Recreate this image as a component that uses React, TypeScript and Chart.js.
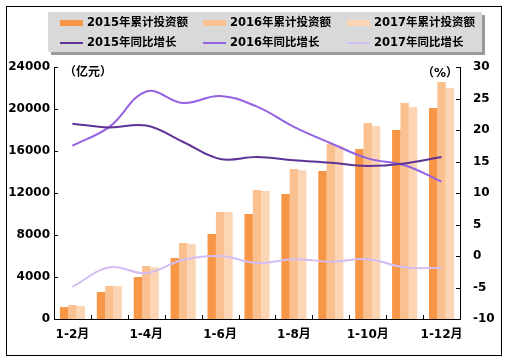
import React, { useEffect, useRef } from "react";
import { Chart, registerables } from "chart.js";

Chart.register(...registerables);

const categories = ["1-2月", "1-3月", "1-4月", "1-5月", "1-6月", "1-7月", "1-8月", "1-9月", "1-10月", "1-11月", "1-12月"];
const inv2015 = [1140, 2570, 4000, 5810, 8100, 10000, 11900, 14100, 16200, 18000, 20100];
const inv2016 = [1330, 3140, 5050, 7240, 10190, 12290, 14290, 16670, 18670, 20570, 22570];
const inv2017 = [1240, 3140, 4920, 7140, 10190, 12190, 14160, 16500, 18380, 20190, 22000];
const gr2015 = [21.0, 20.4, 20.7, 18.1, 15.4, 15.7, 15.2, 14.8, 14.3, 14.7, 15.7];
const gr2016 = [17.5, 20.5, 26.1, 24.3, 25.4, 23.7, 20.5, 17.9, 15.5, 14.4, 11.8];
const gr2017 = [-4.9, -1.8, -2.7, -0.6, 0.0, -1.1, -0.5, -0.9, -0.5, -1.8, -1.9];

const FONT = '"DejaVu Sans", "Noto Sans CJK SC", sans-serif';
const C15 = "#F79646";
const C16 = "#FAC090";
const C17 = "#FCD5B4";
const L15 = "#5E3396";
const L16 = "#9463E3";
const L17 = "#D3BDF2";

const decorPlugin = {
  id: "decor",
  beforeDraw(chart: any) {
    const ctx = chart.ctx;
    ctx.save();
    ctx.fillStyle = "#ffffff";
    ctx.fillRect(0, 0, chart.width, chart.height);
    ctx.strokeStyle = "#000000";
    ctx.lineWidth = 1;
    ctx.strokeRect(6.5, 6.5, 495, 349);
    ctx.restore();
  },
  afterDraw(chart: any) {
    const ctx = chart.ctx;
    const area = chart.chartArea;
    const y = chart.scales.y;
    const y1 = chart.scales.y1;
    ctx.save();
    ctx.strokeStyle = "#000000";
    ctx.lineWidth = 1;
    ctx.beginPath();
    y.ticks.forEach((t: any) => {
      const py = Math.round(y.getPixelForValue(t.value)) + 0.5;
      ctx.moveTo(area.left, py);
      ctx.lineTo(area.left + 4, py);
    });
    y1.ticks.forEach((t: any) => {
      const py = Math.round(y1.getPixelForValue(t.value)) + 0.5;
      ctx.moveTo(area.right, py);
      ctx.lineTo(area.right - 4, py);
    });
    const n = categories.length;
    for (let i = 0; i <= n; i++) {
      const px = Math.round(area.left + (i * (area.right - area.left)) / n) + 0.5;
      ctx.moveTo(px, area.bottom);
      ctx.lineTo(px, area.bottom - 4);
    }
    ctx.stroke();

    ctx.fillStyle = "#000000";
    ctx.font = "bold 12px " + FONT;
    ctx.textBaseline = "middle";
    ctx.textAlign = "left";
    ctx.fillText("（亿元）", area.left + 10, 73);
    ctx.fillText("（%）", area.right - 38, 74);

    // legend
    const bx = 48, by = 12, bw = 434, bh = 40;
    ctx.fillStyle = "#9a9a9a";
    ctx.fillRect(bx + 3, by + 3, bw, bh);
    ctx.fillStyle = "#d9d9d9";
    ctx.fillRect(bx, by, bw, bh);
    const cols = [60, 203, 347];
    const items = [
      { t: "2015年累计投资额", c: C15, bar: true },
      { t: "2016年累计投资额", c: C16, bar: true },
      { t: "2017年累计投资额", c: C17, bar: true },
      { t: "2015年同比增长", c: L15, bar: false },
      { t: "2016年同比增长", c: L16, bar: false },
      { t: "2017年同比增长", c: L17, bar: false },
    ];
    items.forEach((it, i) => {
      const x = cols[i % 3];
      const cy = i < 3 ? 23 : 43;
      ctx.fillStyle = it.c;
      if (it.bar) ctx.fillRect(x, cy - 3, 23, 6);
      else ctx.fillRect(x, cy - 1, 23, 2);
      ctx.fillStyle = "#000000";
      ctx.font = "bold 11.5px " + FONT;
      ctx.fillText(it.t, x + 27, cy);
    });
    ctx.restore();
  },
};

export default function App() {
  const ref = useRef<HTMLCanvasElement | null>(null);
  useEffect(() => {
    if (!ref.current) return;
    const lineDs = (label: string, data: number[], color: string, w: number) => ({
      type: "line" as const,
      label,
      data,
      yAxisID: "y1",
      borderColor: color,
      backgroundColor: color,
      borderWidth: w,
      pointRadius: 0,
      tension: 0.4,
      fill: false,
      order: 0,
    });
    const barDs = (label: string, data: number[], color: string) => ({
      type: "bar" as const,
      label,
      data,
      yAxisID: "y",
      backgroundColor: color,
      borderWidth: 0,
      barPercentage: 1.0,
      categoryPercentage: 0.68,
      order: 1,
    });
    const chart = new Chart(ref.current, {
      type: "bar",
      data: {
        labels: categories,
        datasets: [
          barDs("2015年累计投资额", inv2015, C15),
          barDs("2016年累计投资额", inv2016, C16),
          barDs("2017年累计投资额", inv2017, C17),
          lineDs("2015年同比增长", gr2015, L15, 2),
          lineDs("2016年同比增长", gr2016, L16, 2),
          lineDs("2017年同比增长", gr2017, L17, 2),
        ] as any,
      },
      options: {
        responsive: false,
        animation: false,
        layout: { padding: { top: 67, left: 0, right: 0, bottom: 0 } },
        plugins: { legend: { display: false }, tooltip: { enabled: false } },
        scales: {
          x: {
            type: "category",
            offset: true,
            grid: { display: false, drawTicks: false },
            border: { display: true, color: "#000000", width: 1 },
            ticks: {
              autoSkip: false,
              maxRotation: 0,
              padding: 9,
              color: "#000000",
              font: { family: FONT, size: 12, weight: "bold" },
              callback: (_v: any, i: number) => (i % 2 === 0 ? categories[i] : ""),
            },
            afterFit: (s: any) => { s.height = 41; },
          },
          y: {
            position: "left",
            min: 0,
            max: 24000,
            grid: { display: false, drawTicks: false },
            border: { display: true, color: "#000000", width: 1 },
            ticks: {
              stepSize: 4000,
              padding: 4,
              color: "#000000",
              font: { family: FONT, size: 12, weight: "bold" },
              callback: (v: any) => String(v),
            },
            afterFit: (s: any) => { s.width = 54; },
          },
          y1: {
            position: "right",
            min: -10,
            max: 30,
            grid: { display: false, drawTicks: false },
            border: { display: true, color: "#000000", width: 1 },
            ticks: {
              stepSize: 5,
              padding: 13,
              color: "#000000",
              font: { family: FONT, size: 12, weight: "bold" },
              callback: (v: any) => String(v),
            },
            afterFit: (s: any) => { s.width = 47; },
          },
        },
      } as any,
      plugins: [decorPlugin],
    });
    return () => chart.destroy();
  }, []);
  return (
    <div style={{ position: "absolute", left: 0, top: 0, width: 507, height: 360, background: "#fff" }}>
      <canvas ref={ref} width={507} height={360} style={{ width: 507, height: 360, display: "block" }} />
    </div>
  );
}
